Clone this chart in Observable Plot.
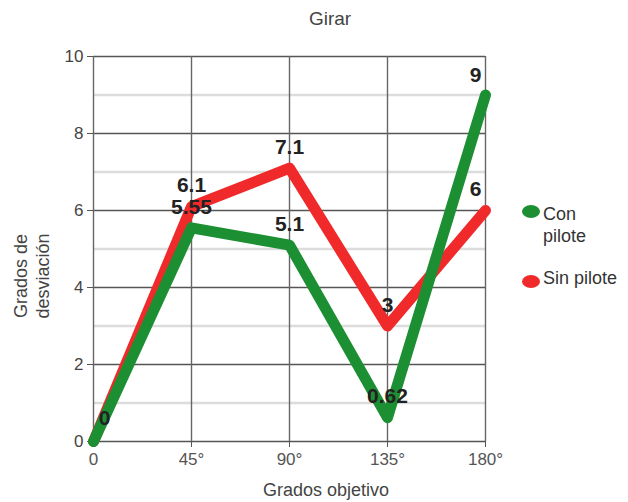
<!DOCTYPE html>
<html>
<head>
<meta charset="utf-8">
<script src="https://cdn.jsdelivr.net/npm/d3@7"></script>
<script src="https://cdn.jsdelivr.net/npm/@observablehq/plot@0.6"></script>
<style>
  html, body { margin: 0; padding: 0; background: #fff; }
  #wrap { position: relative; width: 628px; height: 502px; font-family: "Liberation Sans", Arial, sans-serif; color: #444; overflow: hidden; }
  #chart { position: absolute; left: 0; top: 0; }
  .ov { position: absolute; white-space: nowrap; }
  .leg-dot { position: absolute; width: 18px; height: 13px; border-radius: 50%; }
</style>
</head>
<body>
<div id="wrap">
  <div id="chart"></div>
  <div class="ov" style="left:230px;width:200px;top:8px;text-align:center;font-size:19px;line-height:22px;">Girar</div>
  <div class="ov" style="left:-28px;top:254px;width:120px;height:44px;text-align:center;transform:rotate(-90deg);font-size:18px;line-height:22px;">Grados de<br>desviación</div>
  <div class="ov" style="left:226px;width:200px;top:480px;text-align:center;font-size:18px;line-height:20px;">Grados objetivo</div>
  <div class="leg-dot" style="left:522px;top:205px;background:#1c8f33;"></div>
  <div class="ov" style="left:543px;top:203px;font-size:18px;line-height:22px;color:#333;">Con<br>pilote</div>
  <div class="leg-dot" style="left:522px;top:275px;background:#f02a2a;"></div>
  <div class="ov" style="left:543px;top:267px;font-size:18px;line-height:22px;color:#333;">Sin pilote</div>
</div>
<script>
const categories = ["0", "45°", "90°", "135°", "180°"];
const conPilote = [0, 5.55, 5.1, 0.62, 9];
const sinPilote = [0, 6.1, 7.1, 3, 6];
const majorTicks = [0, 2, 4, 6, 8, 10];
const minorTicks = [1, 3, 5, 7, 9];
const seriesNames = ["Con pilote", "Sin pilote"];

const green = "#1c8f33";
const red = "#f02a2a";

const con = categories.map((c, i) => ({cat: c, v: conPilote[i], s: seriesNames[0], i}));
const sin = categories.map((c, i) => ({cat: c, v: sinPilote[i], s: seriesNames[1], i}));

const labelStyle = {fontSize: 21, fontWeight: "bold", fill: "#222", text: d => String(d.v)};

const chart = Plot.plot({
  width: 628,
  height: 502,
  marginLeft: 93,
  marginRight: 143,
  marginTop: 56,
  marginBottom: 61,
  style: {fontFamily: "Liberation Sans, Arial, sans-serif", fontSize: "17px", color: "#444", background: "#fff", overflow: "visible"},
  x: {type: "point", domain: categories, padding: 0, label: null},
  y: {domain: [0, 10], label: null},
  marks: [
    Plot.ruleY(minorTicks, {stroke: "#dcdcdc", strokeWidth: 2.5}),
    Plot.ruleY(majorTicks, {stroke: "#555", strokeWidth: 1.4}),
    Plot.ruleX(categories, {stroke: "#666", strokeWidth: 1.4}),
    Plot.axisY(majorTicks, {tickSize: 6, tickPadding: 4, fontSize: 17, fill: "#444", stroke: "#555", label: null}),
    Plot.axisX(categories, {tickSize: 6, tickPadding: 5, fontSize: 17, fill: "#555", stroke: "#555", label: null}),
    Plot.line(sin, {x: "cat", y: "v", stroke: red, strokeWidth: 11, strokeLinecap: "round", strokeLinejoin: "round"}),
    Plot.line(con, {x: "cat", y: "v", stroke: green, strokeWidth: 11, strokeLinecap: "round", strokeLinejoin: "round"}),
    Plot.text(sin.filter(d => d.i > 0 && d.i < 4), {x: "cat", y: "v", dy: -21, ...labelStyle}),
    Plot.text(con.filter(d => d.i > 0 && d.i < 4), {x: "cat", y: "v", dy: -21, ...labelStyle}),
    Plot.text(sin.filter(d => d.i === 4), {x: "cat", y: "v", dx: -10, dy: -21, ...labelStyle}),
    Plot.text(con.filter(d => d.i === 4), {x: "cat", y: "v", dx: -10, dy: -20, ...labelStyle}),
    Plot.text(con.filter(d => d.i === 0), {x: "cat", y: "v", dx: 11, dy: -23, ...labelStyle})
  ]
});
document.getElementById("chart").appendChild(chart);
</script>
</body>
</html>
